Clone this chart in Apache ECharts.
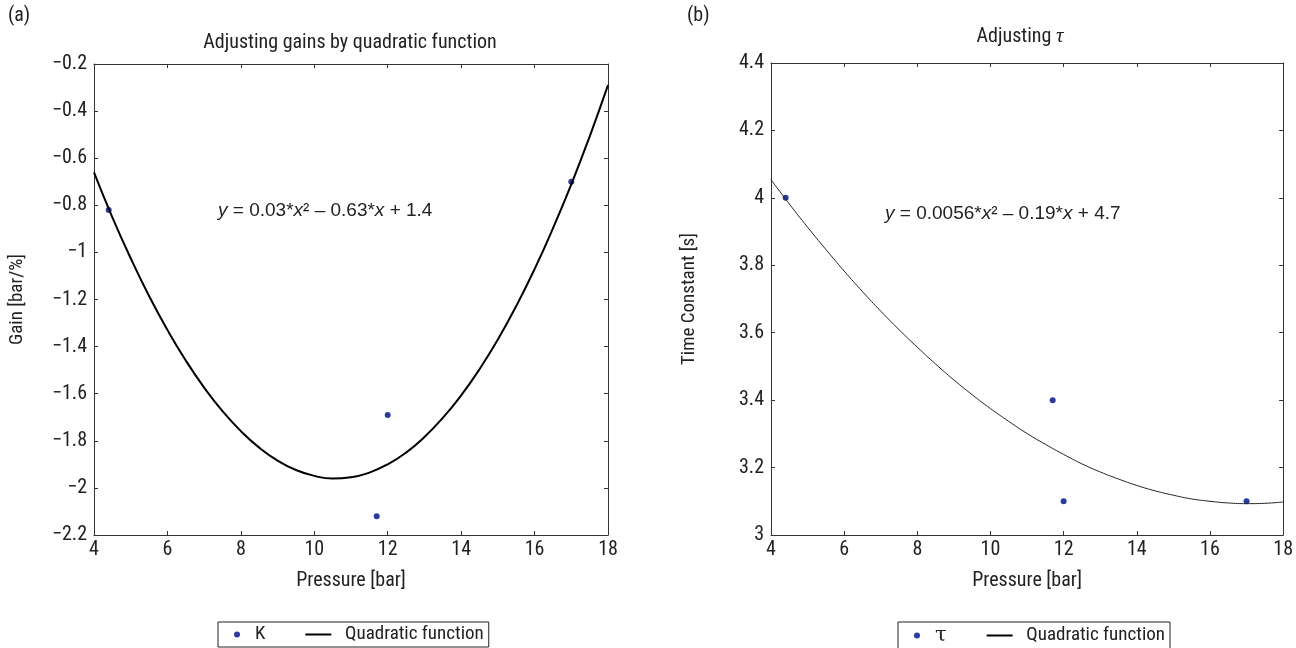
<!DOCTYPE html>
<html>
<head>
<meta charset="utf-8">
<script src="https://cdn.jsdelivr.net/npm/echarts@6/dist/echarts.min.js"></script>
<style>
  html, body { margin: 0; padding: 0; background: #fff; }
  #main { width: 1296px; height: 648px; }
</style>
</head>
<body>
<div id="main"></div>
<script>
// data
var pressureK = [4.4, 11.7, 12.0, 17.0];
var gainK = [-0.82, -2.12, -1.69, -0.70];
var pressureTau = [4.4, 11.7, 12.0, 17.0];
var tauValues = [4.0, 3.4, 3.1, 3.1];

// fitted curves, sampled every 0.5 bar
var fitX = [4, 4.5, 5, 5.5, 6, 6.5, 7, 7.5, 8, 8.5, 9, 9.5, 10, 10.5, 11, 11.5,
            12, 12.5, 13, 13.5, 14, 14.5, 15, 15.5, 16, 16.5, 17, 17.5, 18];
var gainFit = [-0.66, -0.851, -1.025, -1.185, -1.329, -1.459, -1.574, -1.674, -1.759, -1.829,
               -1.884, -1.924, -1.949, -1.96, -1.955, -1.935, -1.90, -1.85, -1.784, -1.703,
               -1.607, -1.496, -1.37, -1.228, -1.071, -0.898, -0.711, -0.508, -0.29];
var tauFit = [4.054, 3.982, 3.913, 3.847, 3.783, 3.722, 3.664, 3.609, 3.557, 3.507,
              3.46, 3.416, 3.375, 3.337, 3.301, 3.269, 3.239, 3.211, 3.187, 3.166,
              3.147, 3.131, 3.118, 3.107, 3.10, 3.095, 3.093, 3.094, 3.098];

var xTicks = [4, 18, 2];
var gainTicks = [-2.2, -0.2, 0.2];
var tauTicks = [3, 4.4, 0.2];

var FONT = "'Liberation Sans Narrow', 'Roboto Condensed', 'DejaVu Sans Condensed', sans-serif";
var EQFONT = "'Liberation Sans', Arial, sans-serif";
var DOT = '#2a3c9e';
var LINE_ICON = 'path://M0,0H26V2H0Z';

function pairs(xs, ys) {
  return xs.map(function (x, i) { return [x, ys[i]]; });
}
function fmt(v) {
  var s = String(parseFloat(v.toFixed(1)));
  return s.replace('-', '\u2212');
}

var myChart = echarts.init(document.getElementById('main'));

function mainX(grid) {
  return {
    type: 'value', gridIndex: grid, min: xTicks[0], max: xTicks[1], interval: xTicks[2],
    name: 'Pressure [bar]', nameLocation: 'middle', nameGap: 36,
    nameTextStyle: { fontFamily: FONT, fontSize: 20, color: '#222' },
    axisLine: { lineStyle: { color: '#333', width: 1 } },
    axisTick: { inside: true, length: 4, lineStyle: { color: '#333' } },
    axisLabel: { fontFamily: FONT, fontSize: 20, color: '#222', margin: 5 },
    splitLine: { show: false }
  };
}
function topX(grid) {
  return {
    type: 'value', gridIndex: grid, position: 'top', min: xTicks[0], max: xTicks[1], interval: xTicks[2],
    axisLine: { lineStyle: { color: '#333' } },
    axisTick: { inside: true, length: 4, lineStyle: { color: '#333' } },
    axisLabel: { show: false }, splitLine: { show: false }
  };
}
function mainY(grid, t, name, gap) {
  return {
    type: 'value', gridIndex: grid, min: t[0], max: t[1], interval: t[2],
    name: name, nameLocation: 'middle', nameGap: gap,
    nameTextStyle: { fontFamily: FONT, fontSize: 19, color: '#222' },
    axisLine: { show: true, lineStyle: { color: '#333' } },
    axisTick: { show: true, inside: true, length: 4, lineStyle: { color: '#333' } },
    axisLabel: { fontFamily: FONT, fontSize: 20, color: '#222', margin: 7, formatter: fmt },
    splitLine: { show: false }
  };
}
function rightY(grid, t) {
  return {
    type: 'value', gridIndex: grid, position: 'right', min: t[0], max: t[1], interval: t[2],
    axisLine: { show: true, lineStyle: { color: '#333' } },
    axisTick: { show: true, inside: true, length: 4, lineStyle: { color: '#333' } },
    axisLabel: { show: false }, splitLine: { show: false }
  };
}

var legendBase = {
  orient: 'horizontal', top: 622, itemWidth: 26, itemHeight: 6, itemGap: 40,
  borderColor: '#222', borderWidth: 1, borderRadius: 0, padding: [3, 5, 3, 16],
  textStyle: {
    fontFamily: FONT, fontSize: 19, color: '#222',
    rich: { t: { fontFamily: "'DejaVu Serif', 'Liberation Serif', serif", fontSize: 21, color: '#222' } }
  },
  formatter: function (n) {
    if (n === '\u03c4') return '{t|\u03c4}';
    if (n.indexOf('Quadratic') === 0) return '  ' + n.trim();
    return n;
  }
};

var titleStyle = { fontFamily: FONT, fontSize: 20, fontWeight: 'normal', color: '#222' };
var eqRich = { i: { fontStyle: 'italic', fontFamily: EQFONT, fontSize: 19, fill: '#222' } };

var option = {
  animation: false,
  title: [
    { text: 'Adjusting gains by quadratic function', left: 345, top: 28, textAlign: 'center', textStyle: titleStyle },
    { text: 'Adjusting {i|\u03c4}', left: 1015, top: 21, textAlign: 'center',
      textStyle: Object.assign({}, titleStyle, {
        rich: { i: { fontFamily: "'Liberation Serif', serif", fontStyle: 'italic', fontSize: 21, color: '#222' } } }) },
    { text: '(a)', left: 3, top: 1, textStyle: titleStyle },
    { text: '(b)', left: 682, top: 1, textStyle: titleStyle }
  ],
  legend: [
    Object.assign({}, legendBase, {
      left: 218,
      data: [
        { name: 'K', icon: 'circle' },
        { name: 'Quadratic function ', icon: LINE_ICON, itemStyle: { color: '#000' } }
      ]
    }),
    Object.assign({}, legendBase, {
      left: 898,
      data: [
        { name: '\u03c4', icon: 'circle' },
        { name: 'Quadratic function', icon: LINE_ICON, itemStyle: { color: '#000' } }
      ]
    })
  ],
  grid: [
    { left: 94, top: 64, width: 514, height: 471, show: false },
    { left: 771, top: 63, width: 514, height: 472, show: false }
  ],
  xAxis: [mainX(0), topX(0), mainX(1), topX(1)],
  yAxis: [
    mainY(0, gainTicks, 'Gain [bar/%]', 67), rightY(0, gainTicks),
    mainY(1, tauTicks, 'Time Constant [s]', 72), rightY(1, tauTicks)
  ],
  graphic: [
    { type: 'text', left: 218, top: 201,
      style: { text: '{i|y} = 0.03*{i|x}\u00b2 \u2013 0.63*{i|x} + 1.4', fill: '#222',
        font: '19px ' + EQFONT, rich: eqRich } },
    { type: 'text', left: 885, top: 204,
      style: { text: '{i|y} = 0.0056*{i|x}\u00b2 \u2013 0.19*{i|x} + 4.7', fill: '#222',
        font: '19px ' + EQFONT, rich: eqRich } }
  ],
  series: [
    { name: 'Quadratic function ', type: 'line', xAxisIndex: 0, yAxisIndex: 0, smooth: true,
      symbol: 'none', data: pairs(fitX, gainFit), lineStyle: { color: '#000', width: 2 }, itemStyle: { color: '#000' } },
    { name: 'K', type: 'scatter', xAxisIndex: 0, yAxisIndex: 0, symbolSize: 6,
      data: pairs(pressureK, gainK), itemStyle: { color: DOT, opacity: 1 } },
    { name: 'Quadratic function', type: 'line', xAxisIndex: 2, yAxisIndex: 2, smooth: true,
      symbol: 'none', data: pairs(fitX, tauFit), lineStyle: { color: '#222', width: 1 }, itemStyle: { color: '#000' } },
    { name: '\u03c4', type: 'scatter', xAxisIndex: 2, yAxisIndex: 2, symbolSize: 6,
      data: pairs(pressureTau, tauValues), itemStyle: { color: DOT, opacity: 1 } }
  ]
};

myChart.setOption(option);
</script>
</body>
</html>
